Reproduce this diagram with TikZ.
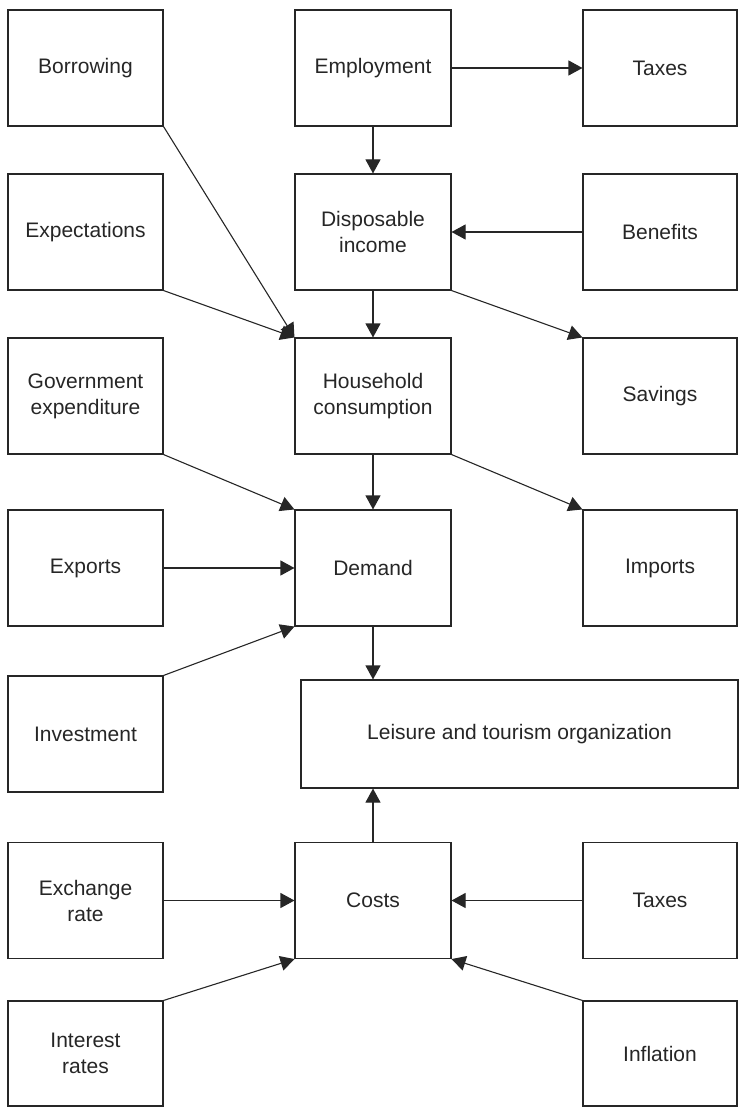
\documentclass[tikz,border=0pt]{standalone}
\usepackage{fontspec}
\setmainfont{Liberation Sans}
\usetikzlibrary{arrows.meta}
\definecolor{ink}{HTML}{262626}
\begin{document}
\begin{tikzpicture}[x=1pt,y=-1pt,
  box/.style={draw=ink, line width=1.1pt, minimum width=155pt, minimum height=116pt,
    inner sep=0pt, align=center, text=ink, font=\fontsize{21pt}{26pt}\selectfont},
  conn/.style={draw=ink, line width=1.1pt, -{Triangle[length=14pt,width=15pt]}}]
\useasboundingbox (0,0) rectangle (742,1107);
% left column (x 8-163)
\node[box] (borrow) at (85.5,68) {Borrowing};
\node[box] (expect) at (85.5,232) {Expectations};
\node[box] (gov) at (85.5,396) {Government\\expenditure};
\node[box] (exports) at (85.5,568) {Exports};
\node[box] (invest) at (85.5,734) {Investment};
\node[box] (exch) at (85.5,900.5) {Exchange\\rate};
\node[box, minimum height=105pt] (interest) at (85.5,1053.5) {Interest\\rates};
% middle column (x 295-451)
\node[box, minimum width=156pt] (employ) at (373,68) {Employment};
\node[box, minimum width=156pt] (dispinc) at (373,232) {Disposable\\income};
\node[box, minimum width=156pt] (house) at (373,396) {Household\\consumption};
\node[box, minimum width=156pt] (demand) at (373,568) {Demand};
\node[box, minimum width=156pt] (costs) at (373,900.5) {Costs};
\node[box, minimum width=437pt, minimum height=108pt] (leisure) at (519.5,734) {Leisure and tourism organization};
% right column (x 583-737)
\node[box, minimum width=154pt] (taxes1) at (660,68) {Taxes};
\node[box, minimum width=154pt] (benefits) at (660,232) {Benefits};
\node[box, minimum width=154pt] (savings) at (660,396) {Savings};
\node[box, minimum width=154pt] (imports) at (660,568) {Imports};
\node[box, minimum width=154pt] (taxes2) at (660,900.5) {Taxes};
\node[box, minimum width=154pt, minimum height=105pt] (inflation) at (660,1053.5) {Inflation};
% connectors
\draw[conn] (employ.east) -- (taxes1.west);
\draw[conn] (employ.south) -- (dispinc.north);
\draw[conn] (benefits.west) -- (dispinc.east);
\draw[conn] (dispinc.south) -- (house.north);
\draw[conn] (borrow.south east) -- (house.north west);
\draw[conn] (expect.south east) -- (house.north west);
\draw[conn] (dispinc.south east) -- (savings.north west);
\draw[conn] (house.south) -- (demand.north);
\draw[conn] (gov.south east) -- (demand.north west);
\draw[conn] (house.south east) -- (imports.north west);
\draw[conn] (exports.east) -- (demand.west);
\draw[conn] (invest.north east) -- (demand.south west);
\draw[conn] (demand.south) -- (demand.south |- leisure.north);
\draw[conn] (costs.north) -- (costs.north |- leisure.south);
\draw[conn] (exch.east) -- (costs.west);
\draw[conn] (taxes2.west) -- (costs.east);
\draw[conn] (interest.north east) -- (costs.south west);
\draw[conn] (inflation.north west) -- (costs.south east);
\end{tikzpicture}
\end{document}
